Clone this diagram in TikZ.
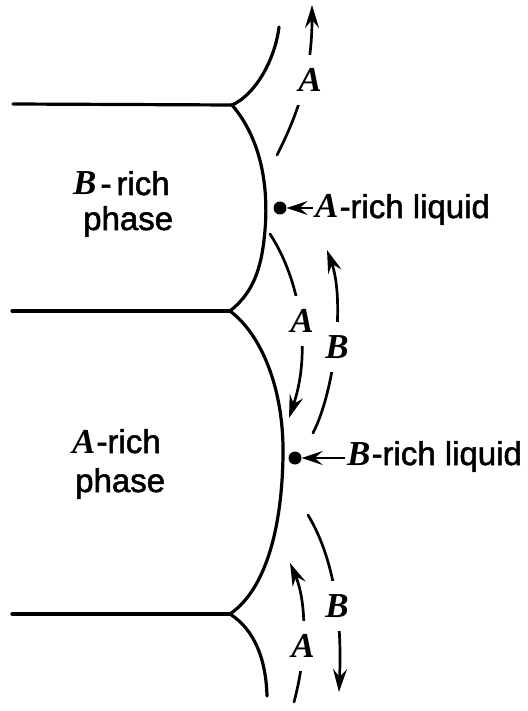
\documentclass[tikz,border=0pt]{standalone}
\usepackage{fontspec}
\setmainfont{Liberation Sans}
\newfontfamily\medsans{Liberation Sans}[FakeBold=1.6]
\newfontfamily\letf{Liberation Serif}
\usetikzlibrary{arrows.meta}
\newcommand{\Lt}[1]{{\fontsize{35}{36}\selectfont\letf\bfseries\itshape #1}}
\begin{document}
\begin{tikzpicture}[x=1pt,y=-1pt,
  gb/.style={line width=3.2pt, line cap=round},
  flow/.style={line width=2.7pt, line cap=round, -{Stealth[length=23pt,width=14pt,inset=8pt]}},
  flowlbl/.style={fill=white, inner xsep=2pt, inner ysep=13pt, font=\fontsize{35}{36}\selectfont\letf\bfseries\itshape},
  txt/.style={font=\fontsize{33}{38}\selectfont\medsans, inner sep=0pt},
  dotn/.style={circle, fill=black, minimum size=13pt, inner sep=0pt},
  ptr/.style={line width=2.6pt, -{Stealth[length=21pt,width=14pt,inset=8pt]}}]
\useasboundingbox (0,0) rectangle (527,711);
% grain boundaries
\coordinate (J1) at (232,105);
\coordinate (J2) at (230,311);
\coordinate (J3) at (230,614);
\coordinate (L1) at (13,104);
\coordinate (L2) at (12,311);
\coordinate (L3) at (12,614);
\coordinate (T1) at (279,27);
\coordinate (T3) at (267,696);
\draw[gb] (L1) -- (J1);
\draw[gb] (L2) -- (J2);
\draw[gb] (L3) -- (J3);
\draw[gb] (J1) .. controls (255,95) and (275,60) .. (T1);
\draw[gb] (J1) .. controls (262,140) and (270,190) .. (264,240) .. controls (260,275) and (250,295) .. (J2);
\draw[gb] (J2) .. controls (262,335) and (284,390) .. (283,455) .. controls (282,530) and (265,590) .. (J3);
\draw[gb] (J3) .. controls (255,630) and (266,660) .. (T3);
% flow arrows
\coordinate (a1s) at (277,155); \coordinate (a1e) at (312,5);
\coordinate (a2s) at (270,234); \coordinate (a2e) at (289,418);
\coordinate (b2s) at (313,433); \coordinate (b2e) at (327,250);
\coordinate (b3s) at (308,515); \coordinate (b3e) at (339,692);
\coordinate (a3s) at (294,702); \coordinate (a3e) at (290,563);
\draw[flow] (a1s) .. controls (300,110) and (312,70) .. (a1e);
\draw[flow] (a2s) .. controls (300,280) and (312,350) .. (a2e);
\draw[flow] (b2s) .. controls (335,390) and (345,300) .. (b2e);
\draw[flow] (b3s) .. controls (335,560) and (342,620) .. (b3e);
\draw[flow] (a3s) .. controls (308,650) and (306,600) .. (a3e);
\node[flowlbl] (la1) at (310,80) {A};
\node[flowlbl] (la2) at (302,321) {A};
\node[flowlbl] (lb2) at (337,347) {B};
\node[flowlbl] (lb3) at (337,606) {B};
\node[flowlbl] (la3) at (303,646) {A};
% liquid labels
\node[dotn] (dA) at (280,208) {};
\node[txt, anchor=base west] (tA) at (315,218) {\Lt{A}\kern1pt-rich liquid};
\draw[ptr] ([xshift=-2pt]tA.west |- dA) -- (dA);
\node[dotn] (dB) at (295,458) {};
\node[txt, anchor=base west] (tB) at (347,465) {\Lt{B}\kern1pt-rich liquid};
\draw[ptr] ([xshift=-2pt]tB.west |- dB) -- (dB);
% phase labels
\node[txt, anchor=base west] (pB1) at (73,195) {\Lt{B}\kern4pt-\kern5pt rich};
\node[txt, anchor=base west] (pB2) at (83,230) {phase};
\node[txt, anchor=base west] (pA1) at (72,453) {\Lt{A}\kern1pt-rich};
\node[txt, anchor=base west] (pA2) at (75,492) {phase};
\end{tikzpicture}
\end{document}
